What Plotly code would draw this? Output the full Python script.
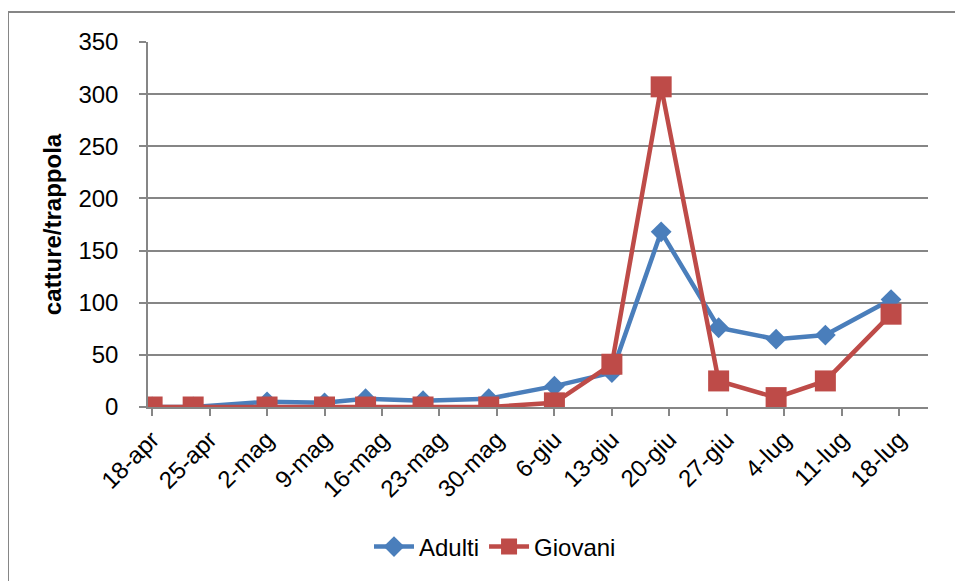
import plotly.graph_objects as go

# ── Data ──────────────────────────────────────────────────────────────
sample_dates = [
    "2012-04-18", "2012-04-23", "2012-05-02", "2012-05-09", "2012-05-14",
    "2012-05-21", "2012-05-29", "2012-06-06", "2012-06-13", "2012-06-19",
    "2012-06-26", "2012-07-03", "2012-07-09", "2012-07-17",
]
adulti = [0, 0, 5, 4, 8, 6, 8, 20, 33, 168, 76, 65, 69, 103]
giovani = [0, 0, 0, 0, 0, 0, 0, 4, 41, 307, 25, 9, 25, 89]

tick_dates = [
    "2012-04-18", "2012-04-25", "2012-05-02", "2012-05-09", "2012-05-16",
    "2012-05-23", "2012-05-30", "2012-06-06", "2012-06-13", "2012-06-20",
    "2012-06-27", "2012-07-04", "2012-07-11", "2012-07-18",
]
tick_labels = [
    "18-apr", "25-apr", "2-mag", "9-mag", "16-mag", "23-mag", "30-mag",
    "6-giu", "13-giu", "20-giu", "27-giu", "4-lug", "11-lug", "18-lug",
]

# ── Style ─────────────────────────────────────────────────────────────
BLUE = "#4A7EBB"
RED = "#BE4B48"
GRID = "#868686"
FONT = "Liberation Sans"

# page body has an 8px margin, so the figure starts at (8, 8)
OFF = 8
W, H = 963 - OFF, 581 - OFF
L, T = 148 - OFF, 42 - OFF
R = W - (928 - OFF)
B = H - (407 - OFF)
PW, PH = W - L - R, H - T - B


def px_x(p):
    # screen pixel -> paper x
    return (p - OFF - L) / PW


def px_y(p):
    # screen pixel -> paper y
    return (H - B - (p - OFF)) / PH


fig = go.Figure()

fig.add_trace(go.Scatter(
    x=sample_dates, y=adulti,
    mode="lines+markers",
    name="Adulti",
    line=dict(color=BLUE, width=4.5),
    marker=dict(symbol="diamond", size=16, color=BLUE),
))

fig.add_trace(go.Scatter(
    x=sample_dates, y=giovani,
    mode="lines+markers",
    name="Giovani",
    line=dict(color=RED, width=4.5),
    marker=dict(symbol="square", size=21, color=RED),
))

# chart area border (cropped on the right/bottom in the original)
fig.add_shape(
    type="rect", xref="paper", yref="paper",
    x0=px_x(8), x1=px_x(975), y0=px_y(595), y1=px_y(12),
    line=dict(color=GRID, width=2),
)

fig.update_layout(
    width=W, height=H,
    margin=dict(l=L, r=R, t=T, b=B),
    plot_bgcolor="white",
    paper_bgcolor="white",
    font=dict(family=FONT, size=24, color="black"),
    xaxis=dict(
        type="date",
        range=["2012-04-17 12:00", "2012-07-21 12:00"],
        tickvals=tick_dates,
        ticktext=tick_labels,
        tickangle=-45,
        showgrid=False,
        showline=True, linecolor=GRID, linewidth=2,
        ticks="outside", ticklen=7, tickcolor=GRID, tickwidth=1.5,
        zeroline=False,
    ),
    yaxis=dict(
        range=[0, 350],
        dtick=50,
        showgrid=True, gridcolor=GRID, gridwidth=1.5,
        showline=True, linecolor=GRID, linewidth=1.5,
        ticks="outside", ticklen=7, tickcolor=GRID, tickwidth=1.5,
        ticklabelstandoff=16,
        zeroline=False,
        title=dict(
            text="<b>catture/trappola</b>",
            font=dict(family=FONT, size=24),
            standoff=10,
        ),
    ),
    legend=dict(
        orientation="h",
        x=px_x(495), xanchor="center",
        y=px_y(547), yanchor="middle",
        font=dict(family=FONT, size=24),
        itemwidth=40,
    ),
    showlegend=True,
)

fig.write_html("out.html")
